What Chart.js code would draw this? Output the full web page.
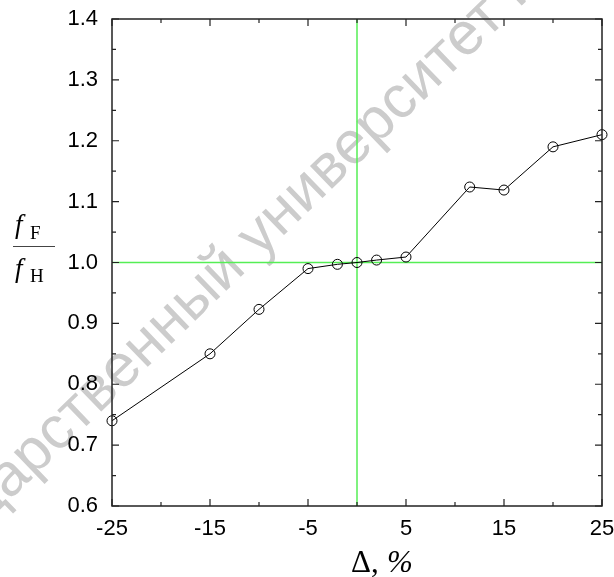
<!DOCTYPE html>
<html>
<head>
<meta charset="utf-8">
<script src="https://cdn.jsdelivr.net/npm/chart.js@4.4.0/dist/chart.umd.min.js"></script>
<style>
  html, body { margin: 0; padding: 0; background: #fff; }
</style>
</head>
<body>
<canvas id="myChart" width="614" height="577"></canvas>
<script>
// data
var deltaPct = [-25, -15, -10, -5, -2, 0, 2, 5, 11.5, 15, 20, 25];
var freqRatio = [0.74, 0.85, 0.923, 0.99, 0.997, 1.0, 1.004, 1.009, 1.124, 1.119, 1.19, 1.21];
var xTickLabels = [-25, -15, -5, 5, 15, 25];
var yTickLabels = [0.6, 0.7, 0.8, 0.9, 1.0, 1.1, 1.2, 1.3, 1.4];
var refX = 0;
var refY = 1.0;

var points = deltaPct.map(function (x, i) { return { x: x, y: freqRatio[i] }; });

function hasLabel(list, v) {
  return list.some(function (t) { return Math.abs(t - v) < 1e-6; });
}

var frame = {
  id: 'frame',
  beforeDraw: function (chart) {
    // faint watermark behind everything
    var c = chart.ctx;
    c.save();
    c.fillStyle = '#cccccc';
    c.font = '60px "Liberation Sans", Arial, sans-serif';
    c.translate(372, 128);
    c.rotate(-44 * Math.PI / 180);
    var word = 'университет';
    var w = c.measureText(word).width;
    c.textBaseline = 'alphabetic';
    c.textAlign = 'center';
    c.fillText(word, 0, 16);
    c.textAlign = 'right';
    c.fillText('государственный ', -w / 2, 16);
    c.textAlign = 'left';
    c.fillText(' имени Ф. Скорины', w / 2, 16);
    c.restore();
  },
  beforeDatasetsDraw: function (chart) {
    var c = chart.ctx, a = chart.chartArea;
    var xs = chart.scales.x, ys = chart.scales.y;
    // green reference lines
    c.save();
    c.strokeStyle = '#55ee55';
    c.lineWidth = 1.5;
    var px = xs.getPixelForValue(refX), py = ys.getPixelForValue(refY);
    c.beginPath();
    c.moveTo(px, a.top); c.lineTo(px, a.bottom);
    c.moveTo(a.left, py); c.lineTo(a.right, py);
    c.stroke();
    c.restore();
  },
  afterDatasetsDraw: function (chart) {
    var c = chart.ctx, a = chart.chartArea;
    var xs = chart.scales.x, ys = chart.scales.y;
    c.save();
    c.strokeStyle = '#222';
    c.lineWidth = 1.5;
    c.strokeRect(a.left, a.top, a.right - a.left, a.bottom - a.top);
    c.lineWidth = 1.2;
    c.beginPath();
    xs.ticks.forEach(function (t) {
      var p = xs.getPixelForValue(t.value);
      var len = hasLabel(xTickLabels, t.value) ? 7 : 4;
      c.moveTo(p, a.bottom); c.lineTo(p, a.bottom - len);
      c.moveTo(p, a.top); c.lineTo(p, a.top + len);
    });
    ys.ticks.forEach(function (t) {
      var p = ys.getPixelForValue(t.value);
      var len = hasLabel(yTickLabels, t.value) ? 7 : 4;
      c.moveTo(a.left, p); c.lineTo(a.left + len, p);
      c.moveTo(a.right, p); c.lineTo(a.right - len, p);
    });
    c.stroke();
    c.restore();
  },
  afterDraw: function (chart) {
    var c = chart.ctx;
    c.save();
    c.fillStyle = '#000';
    c.textBaseline = 'alphabetic';
    // x title
    c.font = '31px "Liberation Serif", "Times New Roman", serif';
    c.textAlign = 'left';
    c.fillText('\u0394,', 351, 572);
    c.font = 'italic 31px "Liberation Serif", "Times New Roman", serif';
    c.fillText('%', 387, 572);
    // y title as fraction f_F / f_H
    c.font = 'italic 27px "Liberation Serif", "Times New Roman", serif';
    c.fillText('f', 15, 233);
    c.fillText('f', 15, 277);
    c.font = '19px "Liberation Serif", "Times New Roman", serif';
    c.fillText('F', 30, 239);
    c.fillText('H', 30, 282);
    c.strokeStyle = '#444';
    c.lineWidth = 1;
    c.beginPath();
    c.moveTo(13, 246.5); c.lineTo(55, 246.5);
    c.stroke();
    c.restore();
  }
};

var ctx = document.getElementById('myChart').getContext('2d');
var myChart = new Chart(ctx, {
  type: 'scatter',
  data: {
    datasets: [{
      data: points,
      showLine: true,
      borderColor: '#000',
      borderWidth: 1,
      pointRadius: 5,
      pointBorderWidth: 1,
      pointBorderColor: '#000',
      pointBackgroundColor: 'rgba(0,0,0,0)',
      clip: false
    }]
  },
  options: {
    responsive: false,
    animation: false,
    events: [],
    layout: { padding: { left: 0, top: 19, right: 12, bottom: 0 } },
    plugins: {
      legend: { display: false },
      tooltip: { enabled: false }
    },
    scales: {
      x: {
        type: 'linear',
        min: -25, max: 25,
        grid: { display: false, drawTicks: false },
        border: { display: false },
        ticks: {
          stepSize: 5,
          autoSkip: false,
          maxRotation: 0,
          padding: 10,
          color: '#000',
          font: { family: '"Liberation Sans", Arial, sans-serif', size: 22 },
          callback: function (v) { return hasLabel(xTickLabels, v) ? String(v) : ''; }
        },
        afterFit: function (s) { s.height = 71; s.paddingLeft = 0; s.paddingRight = 0; }
      },
      y: {
        type: 'linear',
        min: 0.6, max: 1.4,
        grid: { display: false, drawTicks: false },
        border: { display: false },
        ticks: {
          stepSize: 0.05,
          autoSkip: false,
          padding: 14,
          color: '#000',
          font: { family: '"Liberation Sans", Arial, sans-serif', size: 22 },
          callback: function (v) { return hasLabel(yTickLabels, v) ? v.toFixed(1) : ''; }
        },
        afterFit: function (s) { s.width = 112; s.paddingTop = 0; s.paddingBottom = 0; }
      }
    }
  },
  plugins: [frame]
});
</script>
</body>
</html>
